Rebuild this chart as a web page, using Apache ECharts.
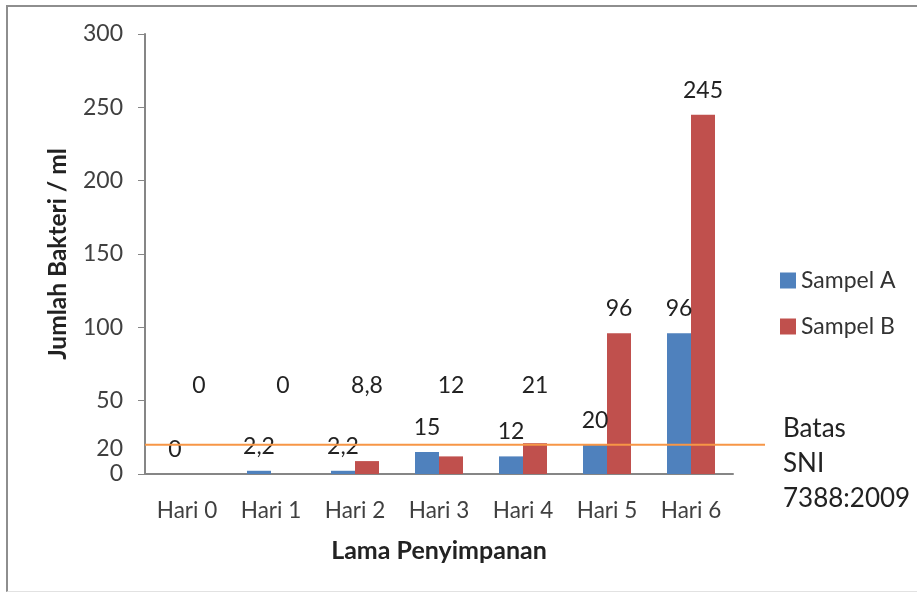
<!DOCTYPE html>
<html>
<head>
<meta charset="utf-8">
<script src="https://cdn.jsdelivr.net/npm/echarts@6/dist/echarts.min.js"></script>
<style>
  body { margin: 0; background: #fff; overflow: hidden; }
  #chart { width: 917px; height: 595px; }
  #frame { position: absolute; left: 6px; top: 5px; width: 920px; height: 584px;
    border-left: 2px solid #8e8e8e; border-top: 2px solid #8e8e8e; border-bottom: 1px solid #e2e2e2;
    pointer-events: none; }
</style>
</head>
<body>
<div id="chart"></div>
<div id="frame"></div>
<script>
// data
var categories = ['Hari 0', 'Hari 1', 'Hari 2', 'Hari 3', 'Hari 4', 'Hari 5', 'Hari 6']
var sampelA = [0, 2.2, 2.2, 15, 12, 20, 96]
var sampelB = [0, 0, 8.8, 12, 21, 96, 245]
var batasSNI = 20
var yTickValues = [0, 50, 100, 150, 200, 250, 300]
var yLabelValues = [0, 20, 50, 100, 150, 200, 250, 300]

var font = 'Lato'
var textColor = '#404040'

function commaFmt(p) {
  return String(p.value).replace('.', ',')
}

var chart = echarts.init(document.getElementById('chart'))

// Sampel B: label nilai kecil dinaikkan (seperti di grafik asli)
var dataB = sampelB.map(function(v) {
  if (v < 50) {
    return { value: v, label: { position: 'insideBottom', distance: 77 }}
  }
  return v
})

var option = {
  animation: false,
  textStyle: { fontFamily: font },
  title: {
    text: 'Batas\nSNI\n7388:2009',
    left: 778,
    top: 406,
    textStyle: { fontFamily: font, fontSize: 26, fontWeight: 'normal', color: '#222', lineHeight: 35 }
  },
  legend: {
    orient: 'vertical',
    left: 775,
    top: 264,
    itemWidth: 16,
    itemHeight: 16,
    itemGap: 23,
    icon: 'rect',
    textStyle: { fontFamily: font, fontSize: 23, color: '#333' },
    data: ['Sampel A', 'Sampel B']
  },
  grid: [
    { left: 145, right: 184, top: 34, bottom: 121 },
    // grid kedua untuk garis batas yang lebih panjang
    { left: 145, right: 152, top: 34, bottom: 121 }
  ],
  xAxis: [
    {
      type: 'category',
      gridIndex: 0,
      data: categories,
      name: 'Lama Penyimpanan',
      nameLocation: 'middle',
      nameGap: 64,
      nameTextStyle: { fontFamily: font, fontSize: 25, fontWeight: 'bold', color: '#222' },
      axisLine: { lineStyle: { color: '#868686', width: 2 }},
      axisTick: { show: false },
      axisLabel: { fontFamily: font, fontSize: 22.5, color: textColor, margin: 25 }
    },
    { type: 'value', gridIndex: 1, min: 0, max: 1, show: false }
  ],
  yAxis: [
    {
      type: 'value',
      gridIndex: 0,
      min: 0,
      max: 300,
      interval: 50,
      name: 'Jumlah Bakteri / ml',
      nameLocation: 'middle',
      nameGap: 74,
      nameTextStyle: { fontFamily: font, fontSize: 24.5, fontWeight: 'bold', color: '#222' },
      axisLine: { show: true, lineStyle: { color: '#868686', width: 2 }},
      axisTick: { show: true, length: 7, customValues: yTickValues, lineStyle: { color: '#868686' }},
      axisLabel: {
        fontFamily: font, fontSize: 23, color: textColor, margin: 22, customValues: yLabelValues,
        formatter: function(v) { return v === 20 ? '{lo|20}' : String(v) },
        rich: { lo: { fontFamily: font, fontSize: 23, color: textColor, padding: [7, 0, 0, 0] }}
      },
      splitLine: { show: false }
    },
    { type: 'value', gridIndex: 1, min: 0, max: 300, show: false }
  ],
  series: [
    {
      name: 'Sampel A',
      type: 'bar',
      xAxisIndex: 0,
      yAxisIndex: 0,
      data: sampelA,
      barWidth: 24,
      barGap: '0%',
      itemStyle: { color: '#4F81BD' },
      label: { show: true, position: 'top', distance: 13, fontFamily: font, fontSize: 23, color: '#222', formatter: commaFmt }
    },
    {
      name: 'Sampel B',
      type: 'bar',
      xAxisIndex: 0,
      yAxisIndex: 0,
      data: dataB,
      barWidth: 24,
      barGap: '0%',
      itemStyle: { color: '#C0504D' },
      label: { show: true, position: 'top', distance: 13, fontFamily: font, fontSize: 23, color: '#222', formatter: commaFmt }
    },
    {
      name: 'Batas',
      type: 'line',
      xAxisIndex: 1,
      yAxisIndex: 1,
      data: [[0, batasSNI], [1, batasSNI]],
      symbol: 'none',
      z: 5,
      lineStyle: { color: '#F79646', width: 2 }
    }
  ]
}

chart.setOption(option)
</script>
</body>
</html>
